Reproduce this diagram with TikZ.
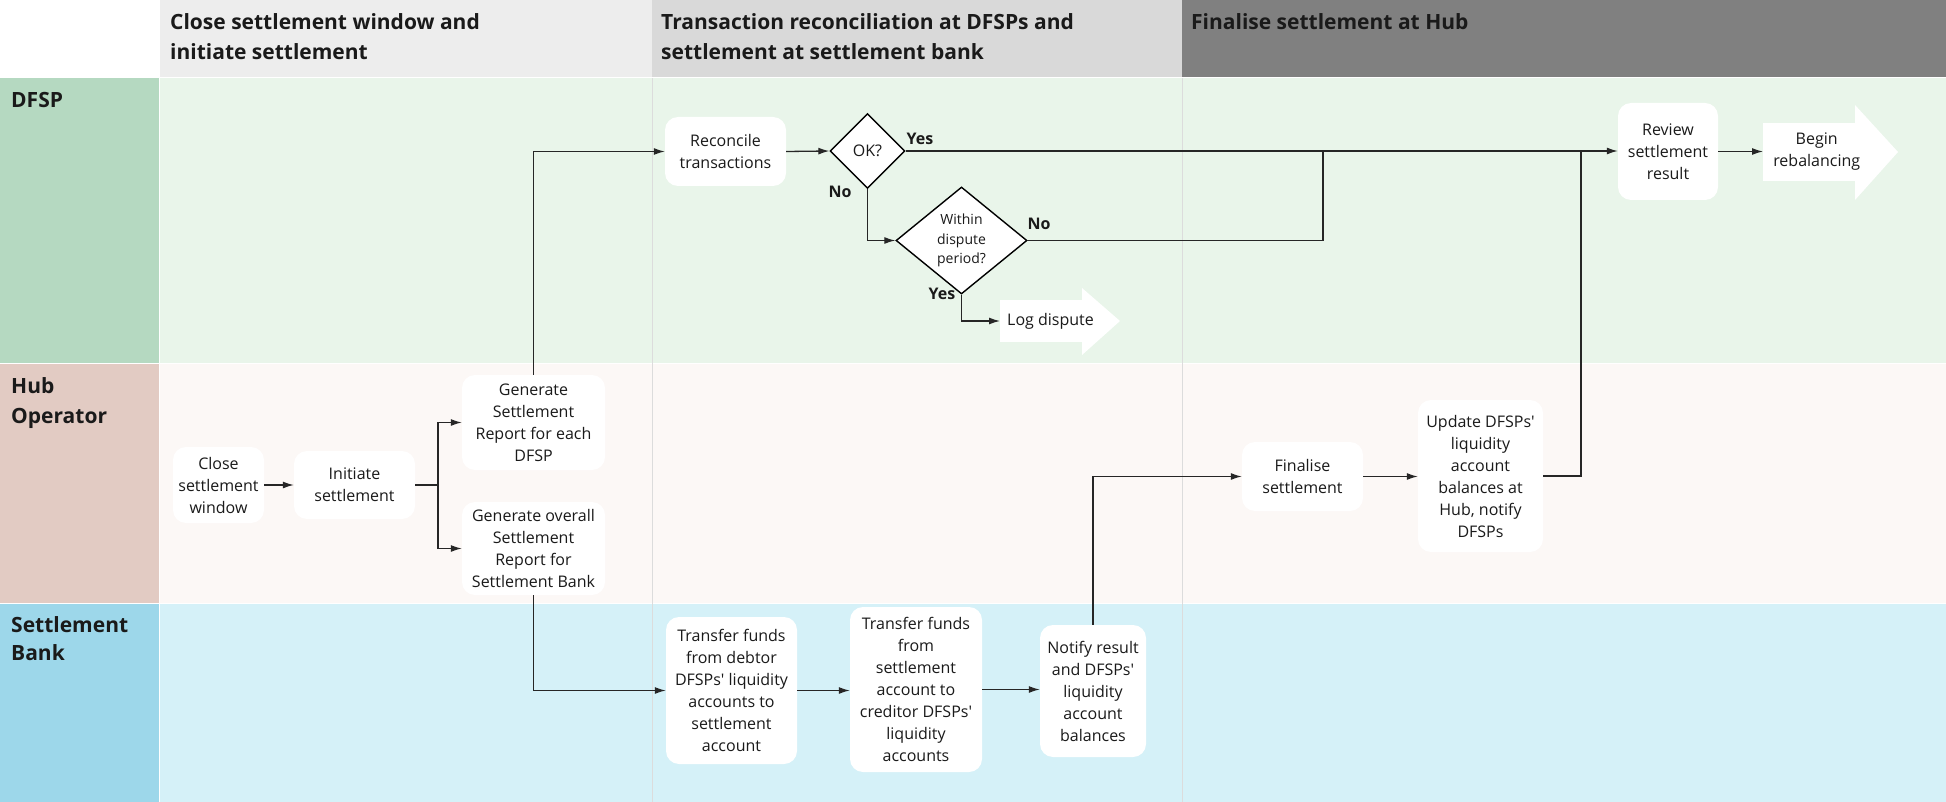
\documentclass[tikz,border=0pt]{standalone}
\usepackage{fontspec}
\setmainfont{Open Sans}[Ligatures=TeXOff]
\usetikzlibrary{shapes.geometric,arrows.meta}
\definecolor{txt}{HTML}{1A1A1A}
\definecolor{hdrA}{HTML}{EDEDED}
\definecolor{hdrB}{HTML}{D9D9D9}
\definecolor{hdrC}{HTML}{808080}
\definecolor{dfspL}{HTML}{B5D9C1}
\definecolor{dfspB}{HTML}{E9F5EA}
\definecolor{hubL}{HTML}{E2CBC3}
\definecolor{hubB}{HTML}{FCF8F6}
\definecolor{bankL}{HTML}{9DD7EA}
\definecolor{bankB}{HTML}{D5F1F8}
\definecolor{ln}{HTML}{262626}
\definecolor{sep}{HTML}{DCDCDC}
\begin{document}
\begin{tikzpicture}[x=1pt,y=-1pt,
  boxfont/.style={font=\fontsize{16}{22}\selectfont},
  box/.style={fill=white, rounded corners=13pt, align=center, inner sep=0pt, text=txt, boxfont},
  dec/.style={diamond, draw=black, line width=1.4pt, fill=white, inner sep=0pt, align=center, text=txt},
  flow/.style={draw=ln, line width=1.3pt, -{Latex[length=11pt,width=7pt]}},
  link/.style={draw=ln, line width=1.3pt},
  lbl/.style={font=\bfseries\fontsize{16}{18}\selectfont, text=txt, inner sep=0pt},
  hdr/.style={font=\bfseries\fontsize{21}{30}\selectfont, text=txt, inner sep=0pt, anchor=base west},
]
% backgrounds
\useasboundingbox (0,0) rectangle (1946,802);
\fill[white] (0,0) rectangle (1946,802);
\fill[hdrA] (160,0) rectangle (652,77);
\fill[hdrB] (652,0) rectangle (1182,77);
\fill[hdrC] (1182,0) rectangle (1946,77);
\fill[dfspL] (0,78) rectangle (159,363);
\fill[dfspB] (160,78) rectangle (1946,363);
\fill[hubL] (0,364) rectangle (159,603);
\fill[hubB] (160,364) rectangle (1946,603);
\fill[bankL] (0,604) rectangle (159,802);
\fill[bankB] (160,604) rectangle (1946,802);
\draw[sep, line width=1pt] (652,78) -- (652,802);
\draw[sep, line width=1pt] (1182,78) -- (1182,802);

% headers
\node[hdr] (h1a) at (170,30) {Close settlement window and};
\node[hdr] (h1b) at (170,60) {initiate settlement};
\node[hdr] (h2a) at (661,30) {Transaction reconciliation at DFSPs and};
\node[hdr] (h2b) at (661,60) {settlement at settlement bank};
\node[hdr] (h3a) at (1191,30) {Finalise settlement at Hub};

% lane labels
\node[hdr] (l1) at (11,108) {DFSP};
\node[hdr] (l2a) at (11,393) {Hub};
\node[hdr] (l2b) at (11,423) {Operator};
\node[hdr] (l3a) at (11,632) {Settlement};
\node[hdr] (l3b) at (11,660) {Bank};

% arrow-shaped terminals (heads)
\fill[white] (1082,288) -- (1120,321) -- (1082,355) -- cycle;
\fill[white] (1855,105) -- (1898,152) -- (1855,200) -- cycle;

% nodes
\node[box, minimum width=91pt, minimum height=76pt] (close) at (218.5,485) {Close\\settlement\\window};
\node[box, minimum width=121pt, minimum height=68pt] (init) at (354.5,485) {Initiate\\settlement};
\node[box, minimum width=143pt, minimum height=95pt] (gen1) at (533.5,422.5) {Generate\\Settlement\\Report for each\\DFSP};
\node[box, minimum width=143pt, minimum height=93pt] (gen2) at (533.5,548.5) {Generate overall\\Settlement\\Report for\\Settlement Bank};
\node[box, minimum width=121pt, minimum height=69pt] (rec) at (725.5,151.5) {Reconcile\\transactions};
\node[dec, minimum width=75pt, minimum height=75pt, font=\fontsize{16}{20}\selectfont] (ok) at (867.5,151) {OK?};
\node[dec, minimum width=131pt, minimum height=107pt, font=\fontsize{14}{19.5}\selectfont] (wd) at (961.5,240.5) {Within\\dispute\\period?};
\node[fill=white, inner sep=0pt, minimum width=82pt, minimum height=42pt, anchor=west, text=txt, boxfont] (log) at (1000,321) {\makebox[82pt][l]{\hspace{7pt}Log dispute}};
\node[box, minimum width=100pt, minimum height=97pt] (review) at (1668,151.5) {Review\\settlement\\result};
\node[fill=white, inner sep=0pt, minimum width=92pt, minimum height=58pt, anchor=west, text=txt, boxfont] (begin) at (1763,152) {\makebox[92pt][l]{\hspace{6pt}\parbox{95pt}{\centering Begin\\rebalancing}}};
\node[box, minimum width=121pt, minimum height=69pt] (fin) at (1302.5,476.5) {Finalise\\settlement};
\node[box, minimum width=125pt, minimum height=152pt] (upd) at (1480.5,476) {Update DFSPs'\\liquidity\\account\\balances at\\Hub, notify\\DFSPs};
\node[box, minimum width=131pt, minimum height=147pt] (deb) at (731.5,690.5) {Transfer funds\\from debtor\\DFSPs' liquidity\\accounts to\\settlement\\account};
\node[box, minimum width=132pt, minimum height=165pt] (cred) at (916,689.5) {Transfer funds\\from\\settlement\\account to\\creditor DFSPs'\\liquidity\\accounts};
\node[box, minimum width=106pt, minimum height=132pt] (noti) at (1093,691) {Notify result\\and DFSPs'\\liquidity\\account\\balances};

% branch labels
\node[lbl] (yes1) at (920,139) {Yes};
\node[lbl] (no1) at (840,192) {No};
\node[lbl] (no2) at (1039,224) {No};
\node[lbl] (yes2) at (942,294) {Yes};

% connectors
\coordinate (br) at (438,485);
\coordinate (m1) at (1323,0 |- ok.east);
\coordinate (m2) at (1581,0 |- ok.east);
\draw[flow] (close.east) -- (init.west);
\draw[link] (init.east) -- (br);
\draw[flow] (br) |- (gen1.west);
\draw[flow] (br) |- (gen2.west);
\draw[flow] (gen1.north) |- (rec.west);
\draw[flow] (gen2.south) |- (deb.west);
\draw[flow] (rec.east) -- (ok.west);
\draw[flow] (ok.east) -- (ok.east -| review.west);
\draw[flow] (ok.south) |- (wd.west);
\draw[link] (wd.east) -| (m1);
\draw[flow] (wd.south) |- (log.west);
\draw[flow] (deb.east) -- (deb.east -| cred.west);
\draw[flow] (cred.east) -- (cred.east -| noti.west);
\draw[flow] (noti.north) |- (fin.west);
\draw[flow] (fin.east) -- (fin.east -| upd.west);
\draw[link] (upd.east) -| (m2);
\draw[flow] (review.east) -- (review.east -| begin.west);
\end{tikzpicture}
\end{document}
